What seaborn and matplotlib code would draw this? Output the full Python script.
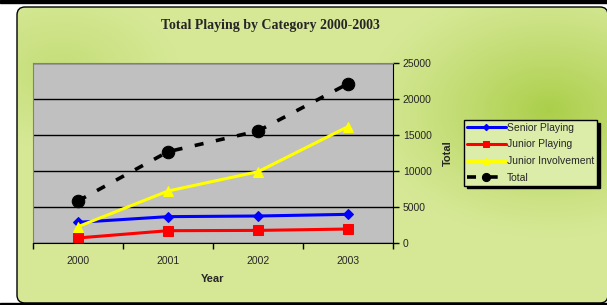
import numpy as np
import pandas as pd
import matplotlib
matplotlib.use('Agg')
import matplotlib.pyplot as plt
import seaborn as sns
from matplotlib.patches import FancyBboxPatch, Rectangle

years = ['2000', '2001', '2002', '2003']
senior_playing = [2870, 3660, 3750, 3980]
junior_playing = [700, 1710, 1750, 1940]
junior_involvement = [2270, 7220, 9900, 16160]
total = [5840, 12680, 15560, 22120]

sns.set_style('white')
plt.rcParams['font.family'] = ['Liberation Sans', 'DejaVu Sans']

fig = plt.figure(figsize=(6.07, 3.05), dpi=100)
W, H = 607, 305

# background panel with green gradient
bg = fig.add_axes([0, 0, 1, 1])
bg.set_xlim(0, W)
bg.set_ylim(H, 0)
bg.axis('off')
xx, yy = np.meshgrid(np.linspace(0, W, 300), np.linspace(0, H, 150))
d = np.sqrt(((xx - 550) / 190) ** 2 + ((yy - 110) / 130) ** 2)
t = np.clip(1 - d, 0, 1) ** 1.2
d2 = np.sqrt(((xx - 60) / 120) ** 2 + ((yy - 70) / 80) ** 2)
t = np.maximum(t, 0.4 * np.clip(1 - d2, 0, 1))
light = np.array([0.84, 0.91, 0.59])
dark = np.array([0.67, 0.81, 0.29])
img = light + (dark - light) * t[..., None]
panel = FancyBboxPatch((17, 7), W - 16, 296, boxstyle='round,pad=0,rounding_size=8',
                       facecolor='none', edgecolor='black', lw=1.0)
bg.add_patch(panel)
im = bg.imshow(img, extent=(0, W, H, 0), aspect='auto', zorder=0)
im.set_clip_path(panel)
bg.add_patch(Rectangle((0, 0), W, 3, color='black', zorder=3))
bg.add_patch(Rectangle((0, 303), W, 2, color='black', zorder=3))

bg.text(270, 26, 'Total Playing by Category 2000-2003', ha='center', va='center',
        fontsize=10, fontweight='bold', family='Liberation Serif')

# plot area
ax = fig.add_axes([33 / W, 1 - 243 / H, 360 / W, 180 / H])
ax.set_facecolor('#c0c0c0')
x = np.arange(len(years))

sns.lineplot(x=x, y=senior_playing, ax=ax, color='#0000ff', lw=2.2, marker='D',
             markersize=5, markeredgecolor='#0000ff', label='Senior Playing')
sns.lineplot(x=x, y=junior_playing, ax=ax, color='#ff0000', lw=2.2, marker='s',
             markersize=7, markeredgecolor='#ff0000', label='Junior Playing')
sns.lineplot(x=x, y=junior_involvement, ax=ax, color='#ffff00', lw=2.2, marker='^',
             markersize=7, markeredgecolor='#ffff00', label='Junior Involvement')
sns.lineplot(x=x, y=total, ax=ax, color='black', lw=2.6, marker='o',
             markersize=9, markeredgecolor='black', label='Total')
ax.lines[-1].set_dashes([2.5, 3.5])

ax.set_xlim(-0.5, 3.5)
ax.set_ylim(0, 25000)
ax.set_yticks(np.arange(0, 25001, 5000))
ax.yaxis.grid(True, color='black', lw=1)
ax.set_axisbelow(True)
ax.yaxis.tick_right()
ax.yaxis.set_label_position('right')
ax.tick_params(axis='y', direction='out', length=4, width=1, color='black', labelsize=7.5, pad=3,
               right=True, left=False)
ax.set_xticks(x)
ax.set_xticklabels(years)
ax.set_xticks(np.arange(-0.5, 4, 1), minor=True)
ax.tick_params(axis='x', which='major', length=0, labelsize=7.5, pad=9)
ax.tick_params(axis='x', which='minor', direction='out', length=4, width=1, color='black', bottom=True)
for s in ax.spines.values():
    s.set_color('#808080')
    s.set_linewidth(0.8)
ax.spines['bottom'].set_color('black')
ax.spines['right'].set_color('black')
ax.set_xlabel('Year', fontsize=8, fontweight='bold', labelpad=6)
ax.set_ylabel('Total', fontsize=8, fontweight='bold', labelpad=8)

leg = ax.legend(loc='upper left', bbox_to_anchor=((464 - 33) / 360, 1 - (120 - 63) / 180),
                bbox_transform=ax.transAxes, fontsize=7.5, frameon=True, fancybox=False,
                shadow={'color': 'black', 'alpha': 1, 'ox': 2, 'oy': -2},
                borderpad=0.25, labelspacing=0.65,
                handlelength=3.8, handletextpad=0.1, borderaxespad=0, markerscale=0.65)
leg.get_frame().set_facecolor('#dcedaa')
leg.get_frame().set_edgecolor('black')
leg.get_frame().set_linewidth(1)

fig.savefig('out.png', dpi=100)
